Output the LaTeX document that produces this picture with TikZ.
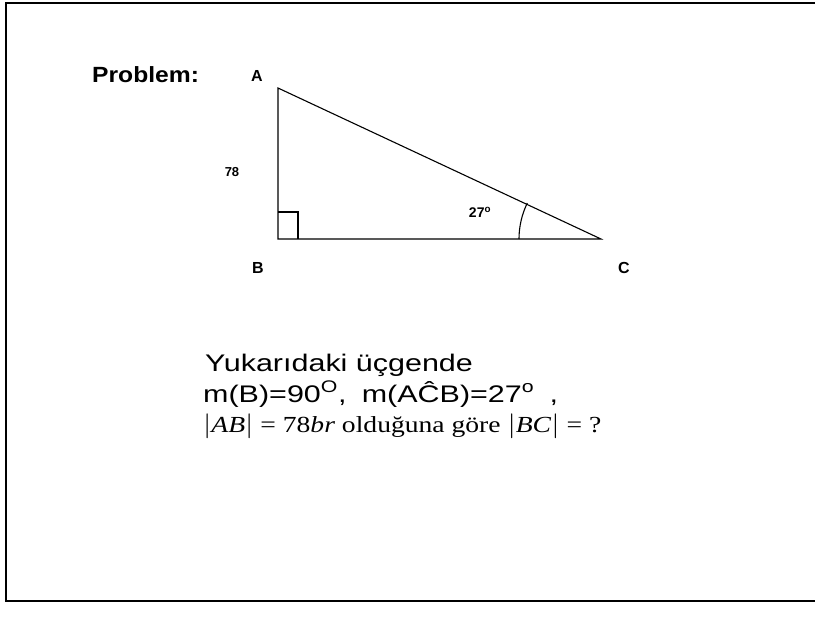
\documentclass[tikz,border=0pt]{standalone}
\usepackage{fontspec}
\setmainfont{Liberation Sans}
\newfontfamily\timesfont{Liberation Serif}
\usetikzlibrary{positioning,calc}

\newcommand{\wide}[2]{\scalebox{#1}[1]{#2}}

\begin{document}
\begin{tikzpicture}[x=1pt,y=-1pt,
  corner/.style={font=\bfseries\fontsize{16}{18}\selectfont},
  sentence/.style={anchor=base west,inner sep=0pt,font=\fontsize{24}{28}\selectfont}]
\useasboundingbox (0,0) rectangle (815,619);
\draw[line width=2pt] (815,3) -- (6,3) -- (6,601) -- (815,601);
\node[anchor=base west,inner sep=0pt,font=\bfseries\fontsize{22}{26}\selectfont] (title) at (92,82) {\wide{1.12}{Problem:}};
\coordinate (A) at (278,88);
\coordinate (B) at (278,239);
\coordinate (C) at (601,239);
\draw[line width=1.1pt] (A) -- (B) -- (C) -- cycle;
\draw[line width=1.1pt] ($(B)+(0,-27)$) -| ($(B)+(20,0)$);
\draw[line width=1.1pt] ($(C)+(-82,0)$) arc[start angle=180,end angle=206,radius=82];
\node[corner] (lA) at (257,76) {A};
\node[corner] (lB) at (258,268) {B};
\node[corner] (lC) at (624,268) {C};
\node[corner,font=\bfseries\fontsize{13}{15}\selectfont] (side) at (232,172) {78};
\node[corner,font=\bfseries\fontsize{14}{16}\selectfont] (angle) at (480,212) {27\textsuperscript{o}};
\node[sentence] (line1) at (205,371) {\wide{1.27}{Yukarıdaki üçgende}};
\node[sentence] (line2) at (203,402) {\wide{1.27}{m(B)=90\textsuperscript{O},\enspace m(AĈB)=27\textsuperscript{o}\enspace,}};
\node[sentence,font=\timesfont\fontsize{23}{27}\selectfont] (line3) at (203,432)
  {\wide{1.2}{$|$\textit{AB}$|$ = 78\textit{br} olduğuna göre $|$\textit{BC}$|$ = ?}};
\end{tikzpicture}
\end{document}
